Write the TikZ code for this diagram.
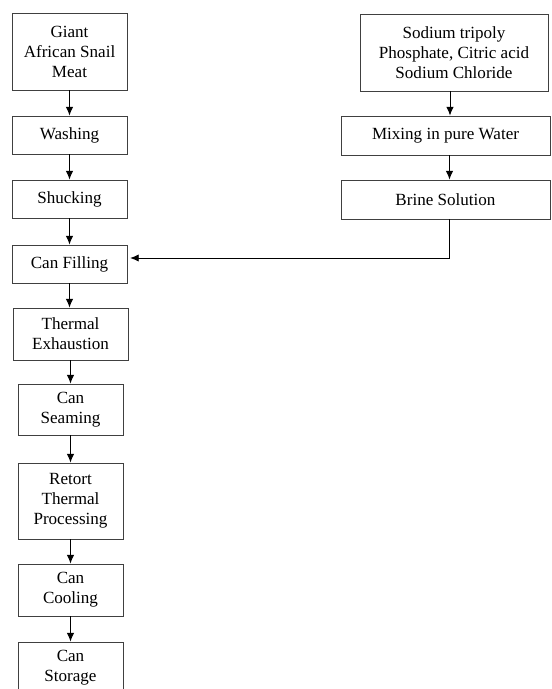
\documentclass[tikz,border=0pt]{standalone}
\usepackage{fontspec}
\setmainfont{Liberation Serif}
\usetikzlibrary{arrows.meta}
\begin{document}
\begin{tikzpicture}[
    x=0.75pt, y=-0.75pt,
    procbox/.style={
        draw=black!75,
        line width=0.6pt,
        align=center,
        inner sep=2pt,
        font=\fontsize{12.8}{15}\selectfont
    },
    flow/.style={-{Latex[length=6.5pt,width=5.5pt]}, line width=0.7pt}
]
\clip (0,0) rectangle (551,689);

% left column
\node[procbox, minimum width=86.25pt, minimum height=57.75pt] (meat) at (69.5,51.5) {Giant\\African Snail\\Meat};
\node[procbox, minimum width=86.25pt, minimum height=28.5pt] (washing) at (69.5,135) {Washing};
\node[procbox, minimum width=86.25pt, minimum height=28.5pt] (shucking) at (69.5,199) {Shucking};
\node[procbox, minimum width=86.25pt, minimum height=28.5pt] (filling) at (69.5,264) {Can Filling};
\node[procbox, minimum width=86.25pt, minimum height=39pt] (exhaust) at (70.5,334) {Thermal\\Exhaustion};
\node[procbox, minimum width=78.75pt, minimum height=38.25pt] (seaming) at (70.5,409.5) {Can\\Seaming};
\node[procbox, minimum width=78.75pt, minimum height=57pt] (retort) at (70.5,501) {Retort\\Thermal\\Processing};
\node[procbox, minimum width=78.75pt, minimum height=39pt] (cooling) at (70.5,590) {Can\\Cooling};
\node[procbox, minimum width=78.75pt, minimum height=39pt] (storage) at (70.5,668) {Can\\Storage};

% right column
\node[procbox, minimum width=141pt, minimum height=57.75pt] (salts) at (454,52.5) {Sodium tripoly\\Phosphate, Citric acid\\Sodium Chloride};
\node[procbox, minimum width=156.75pt, minimum height=29.25pt] (mixing) at (445.5,135.5) {Mixing in pure Water};
\node[procbox, minimum width=156.75pt, minimum height=29.25pt] (brine) at (445.5,199.5) {Brine Solution};

% arrows
\draw[flow] (meat.south) -- (washing.north);
\draw[flow] (washing.south) -- (shucking.north);
\draw[flow] (shucking.south) -- (filling.north);
\draw[flow] (filling.south) -- (filling.south |- exhaust.north);
\draw[flow] (exhaust.south) -- (exhaust.south |- seaming.north);
\draw[flow] (seaming.south) -- (retort.north);
\draw[flow] (retort.south) -- (cooling.north);
\draw[flow] (cooling.south) -- (storage.north);

\draw[flow] ([xshift=-3pt]salts.south) -- ([xshift=-3pt]salts.south |- mixing.north);
\draw[flow] ([xshift=3pt]mixing.south) -- ([xshift=3pt]brine.north);
\draw[flow] ([xshift=2.6pt]brine.south) |- ([xshift=2pt,yshift=4.5pt]filling.east);
\end{tikzpicture}
\end{document}
